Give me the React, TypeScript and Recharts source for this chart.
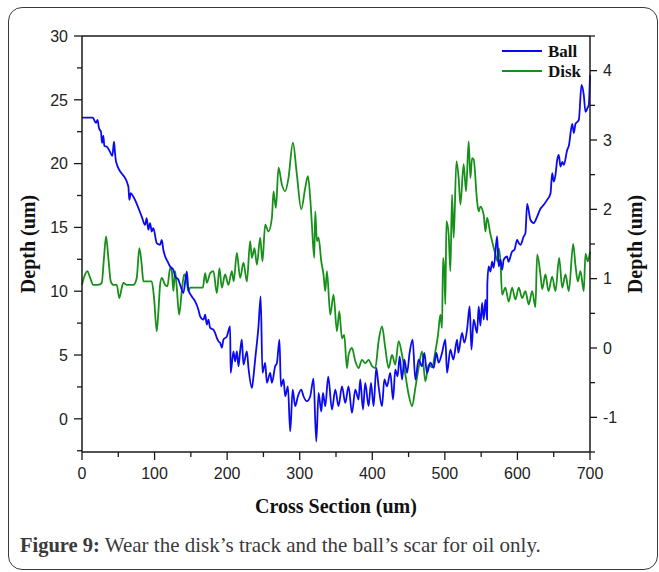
import React from "react";
import { LineChart, Line, XAxis, YAxis, Legend, ReferenceLine } from "recharts";

// Cross-section positions (um) and depth readings (um) for the ball scar
const ballX = [
  0, 14.8, 19.3, 21.4, 23.4, 26.2, 27.6, 29.4, 30.8, 34.5,
  38.6, 41.8, 44.1, 45.5, 46.9, 63.9, 65.2, 67.2, 70.8, 82.3,
  86.9, 89.2, 91.4, 93.8, 96.1, 98.3, 103.0, 107.6, 109.9, 112.1,
  119.0, 121.4, 125.9, 128.3, 132.8, 135.2, 139.7, 144.4, 146.6, 151.3,
  155.9, 160.4, 162.8, 167.3, 169.7, 172.0, 174.2, 176.6, 181.1, 183.4,
  185.8, 188.0, 190.3, 192.7, 194.9, 199.6, 204.1, 204.8, 208.7, 211.0,
  213.4, 215.6, 217.9, 220.2, 222.5, 227.2, 229.4, 234.1, 236.3, 238.6,
  243.2, 246.2, 248.7, 252.4, 254.8, 259.3, 261.7, 266.2, 268.6, 272.1,
  274.1, 277.7, 280.0, 283.7, 286.9, 290.3, 293.8, 297.5, 302.1, 305.2,
  309.9, 314.5, 319.0, 322.8, 326.0, 329.7, 332.0, 335.2, 339.3, 344.4,
  349.0, 353.5, 358.2, 362.8, 367.3, 372.0, 376.6, 381.1, 383.4, 387.2,
  390.3, 394.9, 398.2, 401.8, 405.5, 408.7, 413.4, 416.6, 420.3, 424.8,
  428.6, 431.7, 434.9, 437.7, 441.0, 444.1, 447.9, 451.4, 455.6, 459.3,
  463.8, 468.5, 471.7, 475.4, 480.0, 484.6, 488.3, 491.4, 496.1, 500.7,
  503.0, 507.6, 511.7, 516.8, 518.6, 523.7, 526.9, 530.6, 534.2, 536.6,
  539.7, 544.4, 546.6, 549.0, 551.3, 553.5, 555.9, 558.2, 558.5, 560.4,
  562.8, 565.1, 567.3, 572.0, 574.2, 576.6, 578.9, 581.1, 585.8, 587.6,
  592.7, 595.9, 599.6, 601.8, 604.1, 608.7, 611.0, 613.4, 617.9, 622.5,
  627.2, 631.7, 636.3, 640.9, 645.5, 647.9, 650.1, 652.4, 654.8, 657.0,
  659.3, 661.7, 663.9, 668.6, 670.8, 675.5, 677.7, 680.0, 684.6, 688.3,
  691.4, 693.8, 696.6, 698.3, 700,
];
const ballDepth = [
  23.6, 23.6, 23.19, 23.42, 22.79, 22.48, 21.62, 22.17, 21.39, 21.31,
  20.92, 20.6, 21.72, 20.84, 20.16, 18.2, 17.16, 17.68, 17.4, 15.85,
  15.2, 15.73, 14.81, 15.34, 14.68, 14.95, 13.77, 13.64, 14.03, 13.25,
  12.21, 11.94, 11.68, 11.16, 10.9, 10.51, 9.86, 11.55, 10.12, 9.59,
  9.2, 8.55, 8.03, 7.77, 8.16, 7.38, 7.77, 7.12, 6.99, 6.73,
  6.34, 6.07, 5.95, 5.58, 6.21, 6.46, 7.25, 3.6, 5.29, 4.51,
  5.29, 4.12, 5.29, 6.21, 4.25, 5.29, 3.99, 2.43, 3.33, 4.64,
  7.25, 9.59, 3.6, 4.38, 2.82, 3.6, 2.82, 4.12, 4.38, 6.21,
  2.55, 3.08, 1.77, 2.55, -0.99, 2.29, 0.99, 1.77, 2.29, 1.77,
  1.38, 1.77, 3.15, -1.78, 2.03, 0.57, 2.03, 0.99, 3.31, 0.73,
  2.29, 0.99, 2.55, 1.25, 2.55, 0.47, 2.29, 1.51, 3.08, 0.73,
  2.82, 0.99, 2.82, 0.99, 3.99, 2.55, 0.99, 3.08, 2.55, 3.6,
  1.51, 3.86, 3.33, 4.9, 3.08, 4.64, 3.6, 5.16, 6.21, 3.08,
  4.64, 4.12, 5.16, 3.6, 4.41, 3.99, 5.16, 4.41, 5.16, 6.21,
  3.6, 5.42, 4.64, 6.21, 5.19, 6.73, 5.97, 6.99, 8.81, 5.42,
  7.77, 6.73, 8.81, 7.3, 9.08, 7.77, 9.34, 7.77, 10.51, 11.94,
  11.53, 12.31, 11.84, 14.29, 11.94, 12.47, 11.68, 12.47, 12.72, 12.31,
  13.12, 13.25, 14.03, 13.77, 13.64, 14.29, 14.55, 16.85, 15.6, 15.34,
  15.85, 16.46, 16.77, 17.16, 17.63, 19.25, 18.59, 19.12, 20.29, 20.68,
  19.77, 20.13, 19.9, 21.07, 21.39, 23.11, 22.4, 23.11, 23.42, 26.16,
  25.38, 24.05, 24.36, 24.59, 26.94,
];

// Cross-section positions (um) and depth readings (um) for the disk track
const diskX = [
  0, 2.8, 7.3, 11.0, 15.6, 22.5, 27.2, 30.3, 33.1, 36.3,
  39.6, 43.2, 47.9, 51.4, 54.8, 57.0, 61.7, 70.8, 75.4, 79.0,
  82.3, 84.6, 96.1, 99.3, 103.0, 105.3, 107.6, 109.9, 114.5, 117.7,
  121.4, 123.7, 125.9, 128.3, 130.6, 133.8, 137.5, 140.7, 143.4, 146.6,
  149.0, 166.5, 169.7, 172.0, 176.6, 181.1, 185.8, 189.4, 192.7, 197.2,
  201.8, 206.5, 209.0, 213.4, 217.9, 222.5, 227.2, 231.7, 234.1, 237.7,
  241.0, 245.5, 248.7, 252.4, 256.9, 261.7, 263.9, 267.2, 270.8, 275.4,
  280.0, 284.5, 290.6, 296.1, 302.1, 307.6, 311.3, 314.5, 316.8, 320.0,
  321.4, 323.7, 326.0, 329.7, 332.8, 335.2, 337.5, 342.1, 346.6, 351.3,
  354.5, 358.2, 361.3, 365.1, 367.3, 372.0, 376.6, 381.1, 385.8, 390.3,
  394.9, 399.6, 404.1, 408.7, 413.4, 417.9, 422.5, 427.2, 431.7, 436.3,
  441.0, 445.5, 450.1, 454.8, 459.3, 463.8, 468.5, 473.1, 477.7, 482.3,
  486.9, 490.6, 493.8, 496.1, 497.5, 499.3, 500.7, 502.1, 505.2, 507.6,
  509.9, 512.2, 515.9, 519.0, 521.4, 525.9, 529.2, 532.8, 535.2, 537.5,
  539.7, 544.4, 546.6, 549.0, 553.5, 555.9, 558.2, 562.8, 565.1, 569.7,
  572.8, 574.2, 576.6, 578.9, 583.4, 588.0, 592.7, 597.2, 601.8, 606.5,
  611.0, 615.6, 620.3, 624.8, 627.2, 631.7, 634.1, 638.6, 642.8, 647.9,
  652.4, 657.5, 661.7, 666.2, 670.8, 676.8, 680.0, 683.2, 686.9, 691.4,
  693.8, 696.9, 700,
];
const diskDepth = [
  0.91, 1.02, 1.11, 1.02, 0.91, 0.91, 0.94, 1.3, 1.61, 1.3,
  0.96, 0.91, 0.91, 0.72, 0.87, 0.94, 0.91, 0.91, 1.01, 1.44,
  1.2, 0.96, 0.96, 0.72, 0.24, 0.53, 0.91, 1.01, 0.91, 0.89,
  1.15, 1.11, 0.82, 1.11, 0.87, 0.48, 0.82, 1.06, 1.01, 0.82,
  0.87, 0.87, 1.08, 0.94, 1.08, 1.11, 0.79, 1.15, 0.87, 1.06,
  0.91, 1.11, 0.96, 1.37, 1.01, 1.23, 0.96, 1.54, 1.3, 1.44,
  1.2, 1.59, 1.25, 1.78, 1.68, 1.88, 2.26, 2.02, 2.6, 2.36,
  2.26, 2.45, 2.96, 2.5, 2.0, 2.31, 2.48, 2.16, 1.78, 1.3,
  1.97, 1.54, 1.59, 1.25, 1.06, 0.82, 1.11, 0.48, 0.77, 0.24,
  0.53, 0.14, 0.19, -0.29, -0.1, 0, -0.19, -0.29, -0.17, -0.22,
  -0.17, -0.26, -0.29, 0.1, 0.31, 0, -0.29, -0.1, -0.24, 0.1,
  -0.1, -0.38, -0.67, -0.84, -0.58, -0.29, -0.05, -0.48, -0.24, -0.28,
  -0.05, 0.19, 0.48, 0.29, 1.3, 1.11, 0.63, 1.83, 1.64, 1.11,
  2.21, 1.59, 2.69, 2.45, 2.07, 2.65, 2.26, 2.98, 2.45, 2.74,
  2.72, 2.12, 1.97, 2.04, 1.92, 1.68, 1.88, 1.64, 1.54, 1.35,
  1.25, 1.44, 1.25, 0.77, 0.87, 0.67, 0.87, 0.7, 0.87, 0.72,
  0.82, 0.63, 0.82, 0.59, 1.35, 1.06, 0.85, 1.06, 0.82, 1.03,
  0.82, 1.3, 0.87, 1.06, 0.82, 1.5, 1.19, 0.96, 1.11, 0.82,
  1.36, 1.25, 1.39,
];

// Axis ticks (majors carry labels, the rest are minor marks)
const xTicks = [0, 50, 100, 150, 200, 250, 300, 350, 400, 450, 500, 550, 600, 650, 700];
const leftTicks = [-2.5, 0, 2.5, 5, 7.5, 10, 12.5, 15, 17.5, 20, 22.5, 25, 27.5, 30];
const rightTicks = [-1.5, -1, -0.5, 0, 0.5, 1, 1.5, 2, 2.5, 3, 3.5, 4, 4.5];

const seriesNames = ["Ball", "Disk"];
const seriesColors = ["#0a0af2", "#17901a"];

const ballData = ballX.map((x, i) => ({ x, depth: ballDepth[i] }));
const diskData = diskX.map((x, i) => ({ x, depth: diskDepth[i] }));

const SANS = "'Liberation Sans', Arial, sans-serif";
const SERIF = "'Liberation Serif', 'Times New Roman', serif";
const AXIS = "#1a1a1a";

const LeftTick = (props: any) => {
  const { x, y, payload } = props;
  const major = payload.value % 5 === 0;
  return (
    <g>
      <line x1={x} x2={x - (major ? 8 : 5)} y1={y} y2={y} stroke={AXIS} strokeWidth={1.3} />
      {major && (
        <text x={x - 14} y={y} dy="0.36em" textAnchor="end" fontFamily={SANS} fontSize={16} fill="#222">
          {payload.value}
        </text>
      )}
    </g>
  );
};

const RightTick = (props: any) => {
  const { x, y, payload } = props;
  const major = payload.value % 1 === 0;
  return (
    <g>
      <line x1={x} x2={x + (major ? 7 : 5)} y1={y} y2={y} stroke={AXIS} strokeWidth={1.3} />
      {major && (
        <text x={x + 13} y={y} dy="0.36em" textAnchor="start" fontFamily={SANS} fontSize={16} fill="#222">
          {payload.value}
        </text>
      )}
    </g>
  );
};

const BottomTick = (props: any) => {
  const { x, y, payload } = props;
  const major = payload.value % 100 === 0;
  return (
    <g>
      <line x1={x} x2={x} y1={y} y2={y + (major ? 8 : 5)} stroke={AXIS} strokeWidth={1.3} />
      {major && (
        <text x={x} y={y + 27} textAnchor="middle" fontFamily={SANS} fontSize={16} fill="#222">
          {payload.value}
        </text>
      )}
    </g>
  );
};

const titleStyle = { fontFamily: SERIF, fontWeight: 700, fontSize: 20, fill: "#111" };

const LeftTitle = (props: any) => {
  const { viewBox } = props;
  const cx = viewBox.x + 13;
  const cy = viewBox.y + viewBox.height / 2;
  return (
    <text x={cx} y={cy} textAnchor="middle" transform={`rotate(-90, ${cx}, ${cy})`} {...titleStyle}>
      Depth (um)
    </text>
  );
};

const RightTitle = (props: any) => {
  const { viewBox } = props;
  const cx = viewBox.x + 52;
  const cy = viewBox.y + viewBox.height / 2;
  return (
    <text x={cx} y={cy} textAnchor="middle" transform={`rotate(-90, ${cx}, ${cy})`} {...titleStyle}>
      Depth (um)
    </text>
  );
};

const BottomTitle = (props: any) => {
  const { viewBox } = props;
  return (
    <text x={viewBox.x + viewBox.width / 2} y={viewBox.y + 61} textAnchor="middle" {...titleStyle}>
      Cross Section (um)
    </text>
  );
};

const LegendBox = () => (
  <svg width={90} height={44} style={{ display: "block" }}>
    {seriesNames.map((name, i) => (
      <g key={name}>
        <line x1={4} x2={44} y1={11 + i * 20} y2={11 + i * 20} stroke={seriesColors[i]} strokeWidth={1.8} />
        <text x={50} y={11 + i * 20} dy="0.34em" fontFamily={SERIF} fontWeight={700} fontSize={17} fill="#111">
          {name}
        </text>
      </g>
    ))}
  </svg>
);

export default function App() {
  return (
    <div style={{ position: "absolute", left: 0, top: 0, width: 659, height: 572, background: "#fff" }}>
      <div
        style={{
          position: "absolute",
          left: 8,
          top: 7,
          width: 648,
          height: 561,
          border: "1.5px solid #3a3a3a",
          borderRadius: 14,
        }}
      />
      <div style={{ position: "absolute", left: 0, top: 0 }}>
        <LineChart width={659} height={572} margin={{ top: 36, right: 14, bottom: 90, left: 22 }}>
          <XAxis
            dataKey="x"
            type="number"
            domain={[0, 700]}
            ticks={xTicks}
            interval={0}
            height={30}
            tickSize={0}
            tickMargin={0}
            tickLine={false}
            tick={<BottomTick />}
            axisLine={{ stroke: AXIS, strokeWidth: 1.5 }}
            label={<BottomTitle />}
          />
          <YAxis
            yAxisId="ball"
            orientation="left"
            type="number"
            domain={[-2.6, 30]}
            ticks={leftTicks}
            interval={0}
            width={60}
            tickSize={0}
            tickMargin={0}
            tickLine={false}
            tick={<LeftTick />}
            axisLine={{ stroke: AXIS, strokeWidth: 1.5 }}
            label={<LeftTitle />}
          />
          <YAxis
            yAxisId="disk"
            orientation="right"
            type="number"
            domain={[-1.5, 4.5]}
            ticks={rightTicks}
            interval={0}
            width={55}
            tickSize={0}
            tickMargin={0}
            tickLine={false}
            tick={<RightTick />}
            axisLine={{ stroke: AXIS, strokeWidth: 1.5 }}
            label={<RightTitle />}
          />
          <ReferenceLine yAxisId="ball" y={30} stroke={AXIS} strokeWidth={1.5} />
          <Legend
            layout="horizontal"
            verticalAlign="middle"
            align="center"
            wrapperStyle={{ position: "absolute", left: 498, top: 40, width: 90, height: 44 }}
            content={<LegendBox />}
          />
          <Line
            data={diskData}
            yAxisId="disk"
            dataKey="depth"
            name="Disk"
            type="monotone"
            stroke={seriesColors[1]}
            strokeWidth={1.8}
            dot={false}
            isAnimationActive={false}
          />
          <Line
            data={ballData}
            yAxisId="ball"
            dataKey="depth"
            name="Ball"
            type="monotone"
            stroke={seriesColors[0]}
            strokeWidth={1.8}
            dot={false}
            isAnimationActive={false}
          />
        </LineChart>
      </div>
      <div
        style={{
          position: "absolute",
          left: 20,
          top: 535,
          lineHeight: "20px",
          whiteSpace: "nowrap",
          fontFamily: SERIF,
          fontSize: 21,
          color: "#3a3a3a",
        }}
      >
        <span style={{ fontWeight: 700, fontSize: 20.5 }}>Figure 9:</span> Wear the disk’s track and the ball’s scar for oil only.
      </div>
    </div>
  );
}
